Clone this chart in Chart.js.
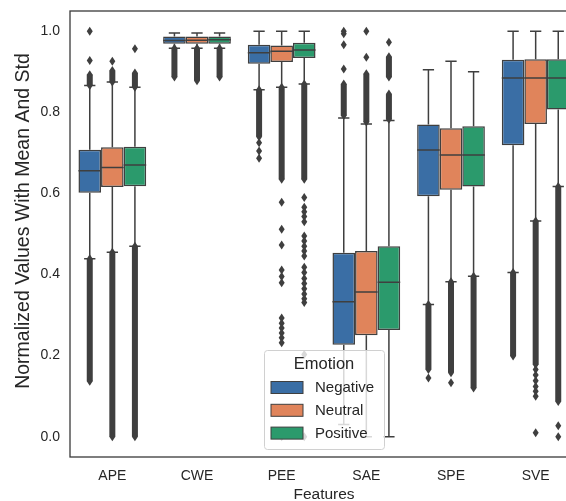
<!DOCTYPE html>
<html>
<head>
<meta charset="utf-8">
<script src="https://cdn.jsdelivr.net/npm/chart.js@4/dist/chart.umd.min.js"></script>
<style>
  html, body { margin: 0; padding: 0; overflow: hidden; background: #fff; }
  #wrap { width: 578px; height: 501px; }
</style>
</head>
<body>
<div id="wrap"><canvas id="boxChart"></canvas></div>
<script>
// Data

const features = ['APE', 'CWE', 'PEE', 'SAE', 'SPE', 'SVE']
const emotions = ['Negative', 'Neutral', 'Positive']
const yTicks = [0.0, 0.2, 0.4, 0.6, 0.8, 1.0]

// Negative
const negLow  = [0.439, 0.958, 0.856, 0.030, 0.326, 0.405]
const negQ1   = [0.602, 0.969, 0.920, 0.227, 0.593, 0.719]
const negMed  = [0.656, 0.977, 0.947, 0.333, 0.707, 0.885]
const negQ3   = [0.708, 0.987, 0.967, 0.454, 0.770, 0.930]
const negHigh = [0.866, 0.996, 1.000, 0.786, 0.905, 1.000]
// dense runs of outliers [from, to] and single outliers
const negBands = [
    [[0.137, 0.439], [0.866, 0.893]],
    [[0.887, 0.958]],
    [[0.740, 0.856]],
    [[0.792, 0.870]],
    [[0.166, 0.326]],
    [[0.199, 0.405]]
]
const negPoints = [
    [0.928, 1.0],
    [],
    [0.725, 0.705, 0.687],
    [0.907, 0.967, 0.994, 1.0],
    [0.145],
    []
]

// Neutral
const neuLow  = [0.455, 0.958, 0.862, 0.000, 0.382, 0.532]
const neuQ1   = [0.616, 0.969, 0.924, 0.250, 0.609, 0.771]
const neuMed  = [0.664, 0.978, 0.951, 0.357, 0.695, 0.885]
const neuQ3   = [0.714, 0.987, 0.965, 0.458, 0.761, 0.931]
const neuHigh = [0.875, 0.996, 1.000, 0.771, 0.926, 1.000]
const neuBands = [
    [[0.0, 0.455], [0.875, 0.903]],
    [[0.878, 0.958]],
    [[0.635, 0.862]],
    [[0.776, 0.895]],
    [[0.158, 0.382]],
    [[0.178, 0.532]]
]
const neuPoints = [
    [0.926],
    [],
    [0.578, 0.512, 0.473, 0.411, 0.395, 0.380, 0.293, 0.280, 0.268, 0.256, 0.244, 0.232, 0.0],
    [0.936, 1.0],
    [0.133],
    [0.166, 0.152, 0.138, 0.124, 0.112, 0.100, 0.010]
]

// Positive
const posLow  = [0.470, 0.958, 0.870, 0.000, 0.396, 0.617]
const posQ1   = [0.618, 0.969, 0.934, 0.263, 0.617, 0.807]
const posMed  = [0.670, 0.979, 0.954, 0.381, 0.695, 0.885]
const posQ3   = [0.715, 0.987, 0.972, 0.470, 0.766, 0.931]
const posHigh = [0.862, 0.996, 1.000, 0.780, 0.900, 1.000]
const posBands = [
    [[0.0, 0.470], [0.862, 0.897]],
    [[0.887, 0.958]],
    [[0.635, 0.870]],
    [[0.783, 0.845], [0.887, 0.937]],
    [[0.120, 0.396]],
    [[0.087, 0.617]]
]
const posPoints = [
    [0.957],
    [],
    [0.590, 0.566, 0.555, 0.543, 0.530, 0.495, 0.483, 0.470, 0.458, 0.446,
     0.418, 0.405, 0.390, 0.378, 0.365, 0.352, 0.340, 0.331, 0.203, 0.0],
    [0.973],
    [],
    [0.027, 0.0]
]

const colors = ['#3a6ea5', '#e0845b', '#2b9a6c']
const lineGray = '#3f3f3f'
const textGray = '#262626'
const font = "'Liberation Sans', Arial, sans-serif"
const yTitle = 'Normalized Values With Mean And Std'

const stats = [
    { low: negLow, q1: negQ1, med: negMed, q3: negQ3, high: negHigh, bands: negBands, points: negPoints },
    { low: neuLow, q1: neuQ1, med: neuMed, q3: neuQ3, high: neuHigh, bands: neuBands, points: neuPoints },
    { low: posLow, q1: posQ1, med: posMed, q3: posQ3, high: posHigh, bands: posBands, points: posPoints }
]

function diamond(ctx, x, y) {
    ctx.beginPath()
    ctx.moveTo(x, y - 4.5)
    ctx.lineTo(x + 3, y)
    ctx.lineTo(x, y + 4.5)
    ctx.lineTo(x - 3, y)
    ctx.closePath()
    ctx.fill()
}

// whiskers, caps, medians and outliers on top of the floating bars
const boxParts = {
    id: 'boxParts',
    afterDatasetsDraw(chart) {
        const ctx = chart.ctx
        const y = chart.scales.y
        const area = chart.chartArea
        ctx.save()
        ctx.beginPath()
        ctx.rect(area.left, area.top, area.right - area.left, area.bottom - area.top)
        ctx.clip()
        ctx.strokeStyle = lineGray
        ctx.fillStyle = lineGray
        ctx.lineWidth = 1.5
        stats.forEach((s, d) => {
            chart.getDatasetMeta(d).data.forEach((bar, i) => {
                const x = bar.x
                const w = bar.width
                const cap = w / 4
                ctx.beginPath()
                ctx.moveTo(x, y.getPixelForValue(s.q3[i]))
                ctx.lineTo(x, y.getPixelForValue(s.high[i]))
                ctx.moveTo(x, y.getPixelForValue(s.q1[i]))
                ctx.lineTo(x, y.getPixelForValue(s.low[i]))
                ctx.moveTo(x - cap, y.getPixelForValue(s.high[i]))
                ctx.lineTo(x + cap, y.getPixelForValue(s.high[i]))
                ctx.moveTo(x - cap, y.getPixelForValue(s.low[i]))
                ctx.lineTo(x + cap, y.getPixelForValue(s.low[i]))
                ctx.moveTo(x - w / 2, y.getPixelForValue(s.med[i]))
                ctx.lineTo(x + w / 2, y.getPixelForValue(s.med[i]))
                ctx.stroke()

                s.bands[i].forEach(b => {
                    const y0 = y.getPixelForValue(b[1])
                    const y1 = y.getPixelForValue(b[0])
                    ctx.fillRect(x - 3, y0, 6, y1 - y0)
                    diamond(ctx, x, y0)
                    diamond(ctx, x, y1)
                })
                s.points[i].forEach(v => diamond(ctx, x, y.getPixelForValue(v)))
            })
        })
        ctx.restore()

        // spines
        ctx.save()
        ctx.strokeStyle = '#3a3a3a'
        ctx.lineWidth = 1.3
        ctx.strokeRect(area.left, area.top, area.right - area.left, area.bottom - area.top)
        ctx.restore()

        // y axis title (sits a little above the axis centre in the original)
        ctx.save()
        ctx.translate(24, area.top + (area.bottom - area.top) / 2 - 13)
        ctx.rotate(-Math.PI / 2)
        ctx.fillStyle = textGray
        ctx.font = '19.5px ' + font
        ctx.textAlign = 'center'
        ctx.textBaseline = 'middle'
        ctx.fillText(yTitle, 0, 0)
        ctx.restore()
    }
}

const emotionLegend = {
    id: 'emotionLegend',
    afterDraw(chart) {
        const ctx = chart.ctx
        const left = 264, top = 350, w = 120, h = 99
        ctx.save()
        ctx.fillStyle = 'rgba(255,255,255,0.8)'
        ctx.strokeStyle = '#d0d0d0'
        ctx.lineWidth = 1
        ctx.beginPath()
        ctx.roundRect(left + 0.5, top + 0.5, w, h, 3)
        ctx.fill()
        ctx.stroke()

        ctx.fillStyle = textGray
        ctx.textBaseline = 'middle'
        ctx.textAlign = 'center'
        ctx.font = '16.5px ' + font
        ctx.fillText('Emotion', left + w / 2, top + 14)

        ctx.textAlign = 'left'
        ctx.font = '15px ' + font
        emotions.forEach((e, k) => {
            const cy = top + 37.5 + k * 22.8
            ctx.fillStyle = colors[k]
            ctx.fillRect(left + 7, cy - 6, 32, 12)
            ctx.strokeStyle = lineGray
            ctx.lineWidth = 1
            ctx.strokeRect(left + 7, cy - 6, 32, 12)
            ctx.fillStyle = textGray
            ctx.fillText(e, left + 51, cy + 0.5)
        })
        ctx.restore()
    }
}

new Chart(document.getElementById('boxChart'), {
    type: 'bar',
    data: {
        labels: features,
        datasets: stats.map((s, d) => ({
            label: emotions[d],
            data: features.map((f, i) => [s.q1[i], s.q3[i]]),
            backgroundColor: colors[d],
            borderColor: lineGray,
            borderWidth: 1.5,
            borderSkipped: false,
            categoryPercentage: 0.8,
            barPercentage: 1.0
        }))
    },
    options: {
        responsive: true,
        maintainAspectRatio: false,
        animation: false,
        layout: { padding: { top: 11, left: 0, right: 0, bottom: 0 } },
        plugins: {
            legend: { display: false },
            tooltip: { enabled: false }
        },
        scales: {
            x: {
                grid: { display: false, drawTicks: false },
                border: { display: false },
                ticks: { color: textGray, font: { family: font, size: 14 }, padding: 11 },
                title: {
                    display: true, text: 'Features', color: textGray,
                    font: { family: font, size: 15.5 }, padding: { top: 0, bottom: -3 }
                },
                afterFit(scale) {
                    scale.height = 44
                    scale.paddingLeft = 0
                    scale.paddingRight = 0
                }
            },
            y: {
                min: -0.05,
                max: 1.05,
                grid: { display: false, drawTicks: false },
                border: { display: false },
                afterBuildTicks(scale) { scale.ticks = yTicks.map(v => ({ value: v })) },
                ticks: {
                    color: textGray, font: { family: font, size: 14 }, padding: 10,
                    callback: v => Number(v).toFixed(1)
                },
                title: { display: false },
                afterFit(scale) {
                    scale.width = 70
                    scale.paddingTop = 0
                    scale.paddingBottom = 0
                }
            }
        }
    },
    plugins: [boxParts, emotionLegend]
})
</script>
</body>
</html>
